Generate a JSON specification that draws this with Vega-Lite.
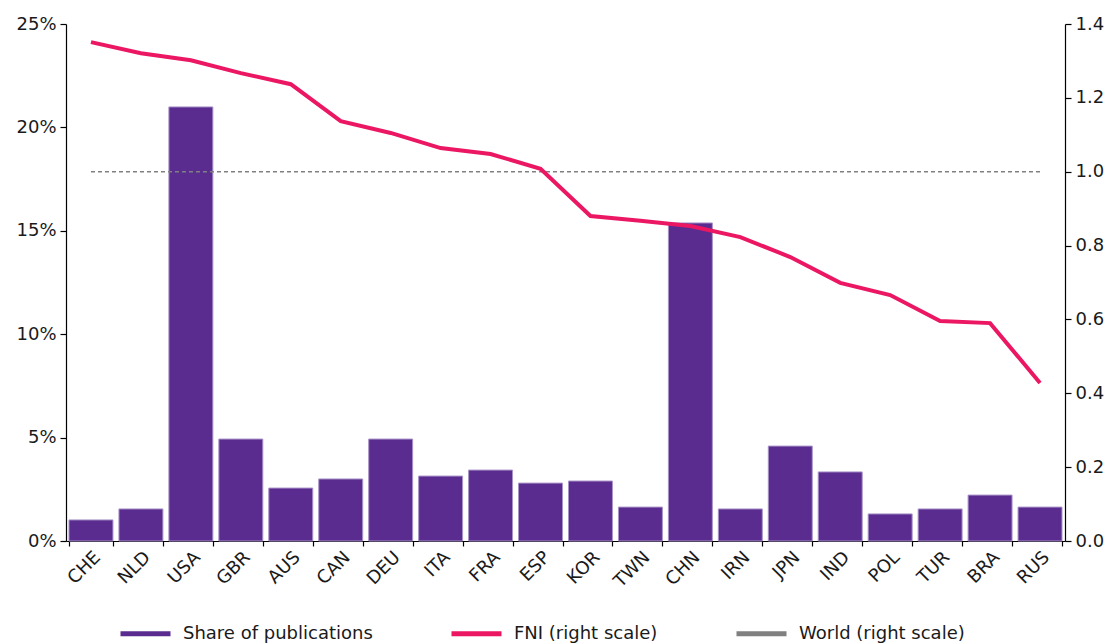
{
  "$schema": "https://vega.github.io/schema/vega-lite/v6.json",
  "autosize": {"type": "none"},
  "width": 999,
  "height": 517,
  "padding": {"left": 66, "top": 24, "right": 48, "bottom": 103},
  "background": "white",
  "config": {
    "font": "DejaVu Sans",
    "view": {"stroke": null},
    "axis": {"grid": false, "domainColor": "#000000", "tickColor": "#000000", "labelColor": "#1a1a1a", "labelFontSize": 18, "labelFont": "DejaVu Sans", "domainWidth": 1.2, "tickWidth": 1.2}
  },
  "data": {"values": [
    {"country": "CHE", "share": 1.02, "fni": 1.351, "world": 1.0},
    {"country": "NLD", "share": 1.55, "fni": 1.321, "world": 1.0},
    {"country": "USA", "share": 20.99, "fni": 1.302, "world": 1.0},
    {"country": "GBR", "share": 4.93, "fni": 1.267, "world": 1.0},
    {"country": "AUS", "share": 2.56, "fni": 1.237, "world": 1.0},
    {"country": "CAN", "share": 3.0, "fni": 1.137, "world": 1.0},
    {"country": "DEU", "share": 4.93, "fni": 1.105, "world": 1.0},
    {"country": "ITA", "share": 3.14, "fni": 1.064, "world": 1.0},
    {"country": "FRA", "share": 3.43, "fni": 1.048, "world": 1.0},
    {"country": "ESP", "share": 2.8, "fni": 1.008, "world": 1.0},
    {"country": "KOR", "share": 2.9, "fni": 0.88, "world": 1.0},
    {"country": "TWN", "share": 1.64, "fni": 0.867, "world": 1.0},
    {"country": "CHN", "share": 15.38, "fni": 0.853, "world": 1.0},
    {"country": "IRN", "share": 1.55, "fni": 0.823, "world": 1.0},
    {"country": "JPN", "share": 4.59, "fni": 0.769, "world": 1.0},
    {"country": "IND", "share": 3.34, "fni": 0.699, "world": 1.0},
    {"country": "POL", "share": 1.31, "fni": 0.666, "world": 1.0},
    {"country": "TUR", "share": 1.55, "fni": 0.596, "world": 1.0},
    {"country": "BRA", "share": 2.22, "fni": 0.59, "world": 1.0},
    {"country": "RUS", "share": 1.64, "fni": 0.428, "world": 1.0}
  ]},
  "encoding": {
    "x": {
      "field": "country", "type": "nominal", "sort": null,
      "scale": {"paddingInner": 0.12, "paddingOuter": 0.06},
      "axis": {"title": null, "labelAngle": -45, "tickBand": "extent", "tickSize": 5, "labelPadding": 2}
    }
  },
  "layer": [
    {
      "mark": {"type": "bar", "stroke": "#a893c8", "strokeWidth": 1},
      "encoding": {
        "y": {
          "field": "share", "type": "quantitative",
          "scale": {"domain": [0, 25], "nice": false},
          "axis": {"title": null, "orient": "left", "values": [0, 5, 10, 15, 20, 25], "labelExpr": "datum.value + '%'", "tickSize": 6, "labelPadding": 4}
        },
        "color": {
          "datum": "Share of publications",
          "type": "nominal",
          "scale": {"domain": ["Share of publications", "FNI (right scale)", "World (right scale)"], "range": ["#5b2c8f", "#ec1763", "#808080"]},
          "legend": {
            "title": null,
            "orient": "none",
            "legendX": 52,
            "legendY": 582,
            "direction": "horizontal",
            "symbolType": "stroke",
            "symbolSize": 2500,
            "symbolStrokeWidth": 5,
            "labelFontSize": 18,
            "labelColor": "#1a1a1a",
            "labelOffset": 10,
            "columnPadding": 68,
            "labelLimit": 400
          }
        }
      }
    },
    {
      "encoding": {
        "y": {
          "type": "quantitative",
          "scale": {"domain": [0, 1.4], "nice": false},
          "axis": {"title": null, "orient": "right", "values": [0, 0.2, 0.4, 0.6, 0.8, 1.0, 1.2, 1.4], "format": ".1f", "tickSize": 6, "labelPadding": 4}
        }
      },
      "layer": [
        {
          "mark": {"type": "line", "strokeWidth": 1.5, "strokeDash": [4, 3]},
          "encoding": {
            "y": {"field": "world", "type": "quantitative"},
            "color": {"datum": "World (right scale)", "type": "nominal"}
          }
        },
        {
          "mark": {"type": "line", "strokeWidth": 4},
          "encoding": {
            "y": {"field": "fni", "type": "quantitative"},
            "color": {"datum": "FNI (right scale)", "type": "nominal"}
          }
        }
      ]
    }
  ],
  "resolve": {"scale": {"y": "independent"}}
}
